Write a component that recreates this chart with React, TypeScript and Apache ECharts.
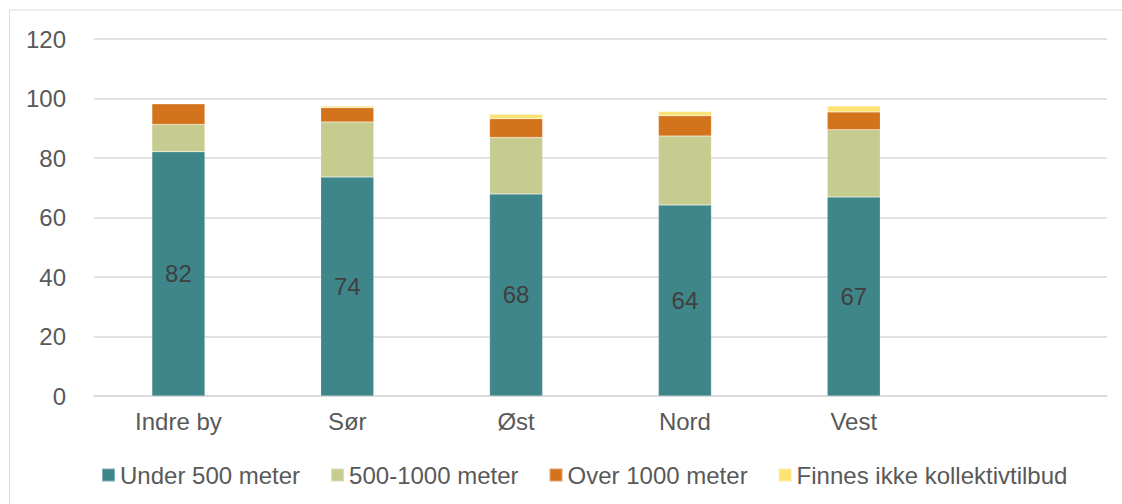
import React, { useEffect, useRef } from "react";
import * as echarts from "echarts";

const categories = ["Indre by", "Sør", "Øst", "Nord", "Vest", ""];
const seriesNames = ["Under 500 meter", "500-1000 meter", "Over 1000 meter", "Finnes ikke kollektivtilbud"];
const under500 = [82.1, 73.6, 67.9, 64.2, 66.9, null];
const mid500to1000 = [9.2, 18.5, 19.0, 23.2, 22.6, null];
const over1000 = [6.9, 4.8, 6.3, 6.8, 6.0, null];
const finnesIkke = [0.1, 0.6, 1.5, 1.4, 2.0, null];
const colors = ["#3f868a", "#c6cc8f", "#d3731c", "#fde274"];

export default function App() {
  const ref = useRef<HTMLDivElement>(null);
  useEffect(() => {
    if (!ref.current) return;
    const chart = echarts.init(ref.current, null, { renderer: "svg" });
    const font = "'Liberation Sans', Arial, sans-serif";
    const data = [under500, mid500to1000, over1000, finnesIkke];
    chart.setOption({
      animation: false,
      textStyle: { fontFamily: font },
      color: colors,
      grid: { left: 94, right: 15, top: 39, bottom: 108, containLabel: false },
      graphic: [
        {
          type: "rect",
          shape: { x: 9.5, y: 10, width: 1130, height: 520 },
          style: { fill: "none", stroke: "#d9d9d9", lineWidth: 1 },
          silent: true,
        },
      ],
      legend: {
        top: 458,
        left: 96,
        itemWidth: 13,
        itemHeight: 13,
        itemGap: 30,
        icon: "rect",
        textStyle: { fontSize: 24, color: "#595959", fontFamily: font },
        data: seriesNames,
      },
      xAxis: {
        type: "category",
        data: categories,
        axisLine: { lineStyle: { color: "#d9d9d9", width: 1.5 } },
        axisTick: { show: false },
        axisLabel: { fontSize: 24, color: "#595959", margin: 13, fontFamily: font },
      },
      yAxis: {
        type: "value",
        min: 0,
        max: 120,
        interval: 20,
        axisLine: { show: false },
        axisTick: { show: false },
        splitLine: { lineStyle: { color: "#d9d9d9", width: 1.5 } },
        axisLabel: { fontSize: 24, color: "#595959", margin: 28, fontFamily: font },
      },
      series: seriesNames.map((name, i) => ({
        name,
        type: "bar",
        stack: "total",
        barWidth: 53,
        data: data[i],
        itemStyle: { color: colors[i], borderColor: "rgba(255,255,255,0.35)", borderWidth: 0.5 },
        label:
          i === 0
            ? {
                show: true,
                position: "inside",
                fontSize: 24,
                color: "#404040",
                fontFamily: font,
                formatter: (p: any) => (p.value == null ? "" : String(Math.round(p.value))),
              }
            : { show: false },
      })),
    });
    return () => chart.dispose();
  }, []);
  return (
    <div
      ref={ref}
      style={{ position: "absolute", left: 0, top: 0, width: 1122, height: 504, background: "#fff" }}
    />
  );
}
